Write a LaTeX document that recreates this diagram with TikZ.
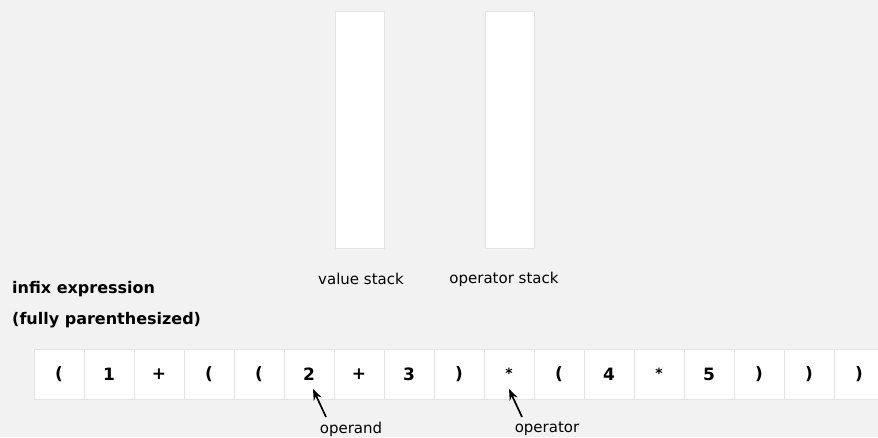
\documentclass[tikz,border=0pt]{standalone}
\usepackage{fontspec}
\setmainfont{DejaVu Sans}
\usetikzlibrary{arrows.meta}
\definecolor{bg}{HTML}{F2F2F2}
\definecolor{cellline}{HTML}{E4E4E4}
\newcommand{\smallast}{\raisebox{2pt}{\fontsize{14}{16}\selectfont *}}
\begin{document}
\begin{tikzpicture}[x=1pt,y=-1pt,
  cellbox/.style={draw=cellline,line width=0.8pt,fill=white,minimum width=50pt,minimum height=50pt,inner sep=0pt,anchor=center,font=\fontsize{17}{20}\selectfont\bfseries},
  stackbox/.style={draw=cellline,line width=0.5pt,fill=white,minimum width=49pt,minimum height=237pt,inner sep=0pt},
  lbl/.style={font=\fontsize{15}{18}\selectfont,inner sep=0pt},
  title/.style={font=\fontsize{16}{19}\selectfont\bfseries,inner sep=0pt,anchor=base west},
  ptr/.style={line width=1.7pt,-{Stealth[length=11pt,width=8.5pt]}}]
\fill[bg] (0,0) rectangle (878,437);
\useasboundingbox (0,0) rectangle (878,437);
\begin{scope}
\clip (0,0) rectangle (878,437);
\node[stackbox] (vs) at (359.5,129.5) {};
\node[stackbox] (os) at (509.5,129.5) {};
\node[lbl] (vsl) at (361,279) {value stack};
\node[lbl] (osl) at (504,279) {operator stack};
\node[title] (t1) at (12,293) {infix expression};
\node[title] (t2) at (12,324) {(fully parenthesized)};
\foreach \t [count=\i] in {{(},{1},{+},{(},{(},{2},{+},{3},{)},{\smallast},{(},{4},{\smallast},{5},{)},{)},{)}} {
  \node[cellbox] (c\i) at ({59+50*(\i-1)},374) {\t};
}
\node[lbl] (opd) at (351,429) {operand};
\node[lbl] (opr) at (547,429) {operator};
\coordinate (tipa) at (313,389);
\coordinate (tipb) at (509,389);
\coordinate (taila) at (326,417);
\coordinate (tailb) at (522,417);
\draw[ptr] (taila) -- (tipa);
\draw[ptr] (tailb) -- (tipb);
\end{scope}
\end{tikzpicture}
\end{document}
